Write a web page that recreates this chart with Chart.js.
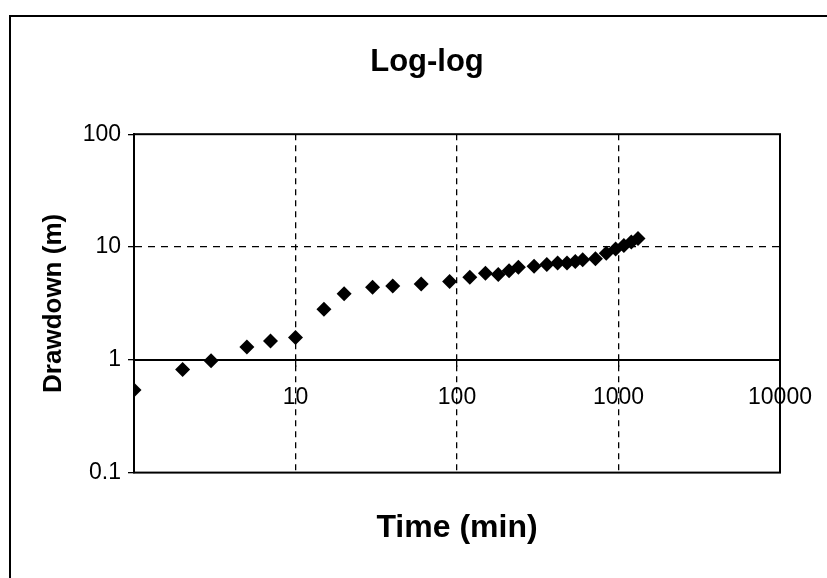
<!DOCTYPE html>
<html>
<head>
<meta charset="utf-8">
<script src="https://cdn.jsdelivr.net/npm/chart.js@4/dist/chart.umd.min.js"></script>
<style>
  html, body { margin: 0; padding: 0; background: #fff; }
  canvas { display: block; }
</style>
</head>
<body>
<canvas id="myChart" width="827" height="578"></canvas>
<script>
// datos de la prueba de bombeo (tiempo en min, abatimiento en m)
var timeMin = [1, 2, 3, 5, 7, 10, 15, 20, 30, 40, 60, 90, 120, 150, 180, 210, 240, 300, 360, 420, 480, 540, 600, 720, 840, 960, 1080, 1200, 1320];
var drawdownM = [0.54, 0.82, 0.98, 1.3, 1.47, 1.58, 2.8, 3.85, 4.4, 4.5, 4.7, 4.95, 5.4, 5.85, 5.7, 6.15, 6.6, 6.75, 7.0, 7.2, 7.2, 7.45, 7.7, 7.85, 8.8, 9.6, 10.3, 11.1, 11.9];

// marcas de los ejes
var xTicks = [10, 100, 1000, 10000];
var yTicks = [0.1, 1, 10, 100];

var points = [];
for (var i = 0; i < timeMin.length; i++) {
    points.push({x: timeMin[i], y: drawdownM[i]});
}

// marco del area de la grafica y borde exterior
var framePlugin = {
    id: 'frame',
    beforeDraw: function(chart) {
        var c = chart.ctx;
        c.save();
        c.strokeStyle = '#000';
        c.lineWidth = 2;
        c.beginPath();
        c.moveTo(10, 578);
        c.lineTo(10, 16);
        c.lineTo(827, 16);
        c.stroke();
        c.restore();
    },
    afterDatasetsDraw: function(chart) {
        var a = chart.chartArea;
        var c = chart.ctx;
        c.save();
        c.strokeStyle = '#000';
        c.lineWidth = 2;
        c.strokeRect(a.left, a.top, a.right - a.left, a.bottom - a.top);
        c.restore();
    }
};

var ctx = document.getElementById("myChart").getContext("2d");
var myChart = new Chart(ctx, {
    type: 'scatter',
    data: {
        datasets: [{
            label: 'Drawdown',
            data: points,
            pointStyle: 'rectRot',
            pointRadius: 7.5,
            pointHoverRadius: 7.5,
            backgroundColor: '#000',
            borderColor: '#000',
            borderWidth: 0
        }]
    },
    options: {
        responsive: false,
        animation: false,
        layout: {
            padding: {left: 74, right: 47, top: 0, bottom: 0}
        },
        plugins: {
            legend: {display: false},
            tooltip: {enabled: false},
            title: {
                display: true,
                text: 'Log-log',
                color: '#000',
                font: {family: 'Liberation Sans, Arial, sans-serif', size: 31, weight: 'bold'},
                padding: {top: 44, bottom: 53}
            },
            subtitle: {
                display: true,
                position: 'bottom',
                fullSize: false,
                text: 'Time (min)',
                color: '#000',
                font: {family: 'Liberation Sans, Arial, sans-serif', size: 32, weight: 'bold'},
                padding: {top: 36, bottom: 31}
            }
        },
        scales: {
            x: {
                type: 'logarithmic',
                position: {y: 1},
                min: 1,
                max: 10000,
                afterBuildTicks: function(axis) {
                    axis.ticks = xTicks.map(function(v) { return {value: v}; });
                },
                afterFit: function(axis) {
                    // la etiqueta 10000 puede salirse del area
                    axis.paddingRight = 0;
                    axis.paddingLeft = 0;
                },
                ticks: {
                    color: '#000',
                    font: {family: 'Liberation Sans, Arial, sans-serif', size: 23},
                    padding: 18,
                    maxRotation: 0,
                    autoSkip: false,
                    callback: function(value) { return String(value); }
                },
                grid: {
                    color: function(c) {
                        return (c.tick && c.tick.value === 10000) ? 'rgba(0,0,0,0)' : '#000';
                    },
                    tickColor: '#000',
                    tickLength: 6,
                    lineWidth: 1.3
                },
                border: {display: true, color: '#000', width: 2, dash: [6, 5]}
            },
            y: {
                type: 'logarithmic',
                min: 0.1,
                max: 100,
                afterBuildTicks: function(axis) {
                    axis.ticks = yTicks.map(function(v) { return {value: v}; });
                },
                afterFit: function(axis) {
                    axis.width = 60;
                },
                ticks: {
                    color: '#000',
                    font: {family: 'Liberation Sans, Arial, sans-serif', size: 23},
                    padding: 7,
                    autoSkip: false,
                    callback: function(value) { return String(value); }
                },
                grid: {
                    color: function(c) {
                        return (c.tick && c.tick.value === 10) ? '#000' : 'rgba(0,0,0,0)';
                    },
                    tickColor: '#000',
                    tickLength: 6,
                    lineWidth: 1.3
                },
                border: {display: true, color: '#000', width: 2, dash: [7, 6]},
                title: {
                    display: true,
                    text: 'Drawdown (m)',
                    color: '#000',
                    font: {family: 'Liberation Sans, Arial, sans-serif', size: 26, weight: 'bold'},
                    padding: {top: -36, bottom: 0}
                }
            }
        }
    },
    plugins: [framePlugin]
});
</script>
</body>
</html>
